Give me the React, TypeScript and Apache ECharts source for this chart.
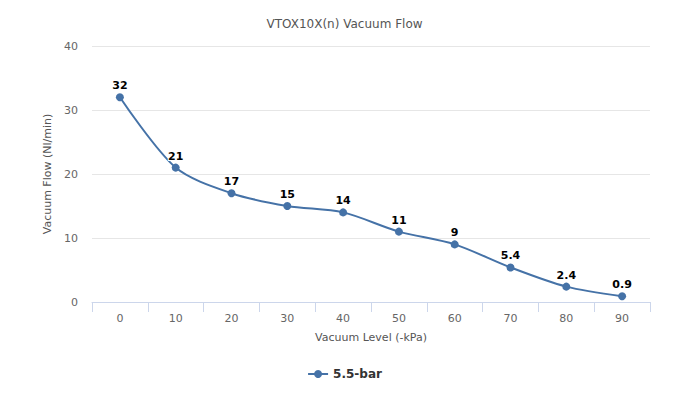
import React, { useEffect, useRef } from "react";
import * as echarts from "echarts";

const categories = ["0", "10", "20", "30", "40", "50", "60", "70", "80", "90"];
const flowValues = [32, 21, 17, 15, 14, 11, 9, 5.4, 2.4, 0.9];
const seriesName = "5.5-bar";
const titleText = "VTOX10X(n) Vacuum Flow";
const xName = "Vacuum Level (-kPa)";
const yName = "Vacuum Flow (Nl/min)";

const FONT = "DejaVu Sans";

export default function App() {
  const ref = useRef<HTMLDivElement>(null);
  useEffect(() => {
    if (!ref.current) return;
    const chart = echarts.init(ref.current, undefined, { renderer: "svg" });
    chart.setOption({
      animation: false,
      backgroundColor: "#ffffff",
      title: {
        text: titleText,
        left: "center",
        top: 13,
        textStyle: { fontFamily: FONT, fontSize: 12, fontWeight: "normal", color: "#555555" },
      },
      grid: { left: 92, right: 39, top: 46, bottom: 98 },
      legend: {
        bottom: 15,
        left: "center",
        itemWidth: 20,
        itemHeight: 10,
        textStyle: { fontFamily: FONT, fontSize: 12, fontWeight: "bold", color: "#333333" },
        data: [seriesName],
      },
      xAxis: {
        type: "category",
        data: categories,
        boundaryGap: true,
        name: xName,
        nameLocation: "middle",
        nameGap: 30,
        nameTextStyle: { fontFamily: FONT, fontSize: 11, color: "#555555" },
        axisLine: { lineStyle: { color: "#ccd6eb" } },
        axisTick: { show: true, length: 10, alignWithLabel: false, lineStyle: { color: "#ccd6eb" } },
        axisLabel: { fontFamily: FONT, fontSize: 11, color: "#666666", margin: 11 },
      },
      yAxis: {
        type: "value",
        min: 0,
        max: 40,
        interval: 10,
        name: yName,
        nameLocation: "middle",
        nameGap: 37,
        nameTextStyle: { fontFamily: FONT, fontSize: 11, color: "#555555" },
        axisLine: { show: false },
        axisTick: { show: false },
        axisLabel: { fontFamily: FONT, fontSize: 11, color: "#666666", margin: 14 },
        splitLine: { lineStyle: { color: "#e6e6e6" } },
      },
      series: [
        {
          name: seriesName,
          type: "line",
          data: flowValues,
          smooth: 0.3,
          symbol: "circle",
          symbolSize: 8,
          color: "#4572A7",
          lineStyle: { width: 2, color: "#4572A7" },
          itemStyle: { color: "#4572A7" },
          label: {
            show: true,
            position: "top",
            distance: 2,
            fontFamily: FONT,
            fontSize: 11,
            fontWeight: "bold",
            color: "#000000",
            textBorderColor: "#ffffff",
            textBorderWidth: 2,
          },
        },
      ],
    });
    return () => chart.dispose();
  }, []);
  return <div ref={ref} style={{ width: 689, height: 400, position: "absolute", left: 0, top: 0 }} />;
}
